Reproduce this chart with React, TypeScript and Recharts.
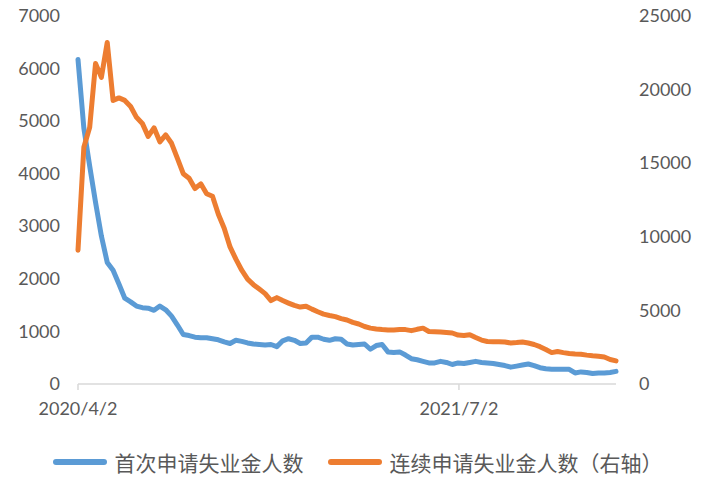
import React from 'react';
import { LineChart, Line, XAxis, YAxis, Legend } from 'recharts';

// Weekly observations starting 2020/4/2
const startLabel = '2020/4/2';
const xTickLabels = ['2020/4/2', '2021/7/2'];
const xTickDays = [0, 456];
const lastDay = 644;

const initialClaims = [
  6165, 4860, 4140, 3450, 2810, 2310, 2160, 1900, 1630, 1560,
  1480, 1450, 1440, 1400, 1480, 1410, 1290, 1120, 940, 920,
  890, 880, 880, 860, 840, 800, 770, 830, 810, 780,
  760, 750, 740, 750, 710, 820, 860, 830, 770, 780,
  890, 890, 850, 830, 860, 850, 760, 740, 750, 760,
  660, 730, 750, 610, 600, 610, 550, 480, 460, 430,
  400, 400, 430, 410, 370, 400, 390, 410, 430, 410,
  400, 390, 370, 350, 320, 340, 360, 380, 350, 310,
  290, 280, 280, 280, 280, 210, 230, 220, 200, 210,
  210, 220, 240,
];

const continuingClaims = [
  9080, 16060, 17410, 21750, 20800, 23170, 19240, 19410, 19240, 18830,
  18090, 17680, 16800, 17380, 16430, 16900, 16330, 15310, 14270, 13960,
  13260, 13580, 12910, 12740, 11520, 10570, 9300, 8470, 7720, 7110,
  6740, 6440, 6130, 5660, 5860, 5660, 5490, 5330, 5220, 5280,
  5080, 4900, 4740, 4650, 4570, 4440, 4340, 4180, 4070, 3900,
  3790, 3730, 3690, 3660, 3660, 3690, 3690, 3620, 3710, 3790,
  3560, 3540, 3520, 3490, 3460, 3320, 3290, 3340, 3150, 2980,
  2880, 2870, 2870, 2850, 2780, 2810, 2850, 2780, 2680, 2530,
  2340, 2130, 2200, 2130, 2070, 2030, 2020, 1960, 1910, 1880,
  1830, 1660, 1570,
];

const seriesNames = ['首次申请失业金人数', '连续申请失业金人数（右轴）'];
const leftTicks = [0, 1000, 2000, 3000, 4000, 5000, 6000, 7000];
const rightTicks = [0, 5000, 10000, 15000, 20000, 25000];

const data = initialClaims.map((v, i) => ({
  day: i * 7,
  initial: v,
  continuing: continuingClaims[i],
}));

const BLUE = '#5B9BD5';
const ORANGE = '#ED7D31';
const TEXT = '#595959';
const AXIS = '#D9D9D9';
const tickFont = { fontFamily: 'Lato, "Open Sans", sans-serif', fontSize: 18, fill: TEXT };

const LegendContent = () => (
  <div
    style={{
      display: 'flex',
      justifyContent: 'center',
      alignItems: 'center',
      fontFamily: '"Noto Sans CJK SC", sans-serif',
      fontSize: 21,
      color: TEXT,
      lineHeight: '28px',
      paddingLeft: 6,
    }}
  >
    {[BLUE, ORANGE].map((c, k) => (
      <div key={k} style={{ display: 'flex', alignItems: 'center', marginLeft: k ? 24 : 0 }}>
        <div style={{ width: 54, height: 6, borderRadius: 3, background: c, marginRight: 8 }} />
        <span>{seriesNames[k]}</span>
      </div>
    ))}
  </div>
);

export default function App() {
  return (
    <div style={{ position: 'absolute', left: 0, top: 0, width: 709, height: 477, background: '#fff' }}>
      <LineChart width={709} height={477} data={data} margin={{ top: 15.5, right: 0, bottom: 0, left: 0 }}>
        <XAxis
          dataKey="day"
          type="number"
          domain={[0, lastDay]}
          ticks={xTickDays}
          tickFormatter={(d: number) => xTickLabels[xTickDays.indexOf(d)] ?? startLabel}
          stroke={AXIS}
          strokeWidth={1.5}
          tickSize={6}
          tickMargin={12}
          height={93}
          tick={tickFont}
          interval={0}
        />
        <YAxis
          yAxisId="left"
          orientation="left"
          domain={[0, 7000]}
          ticks={leftTicks}
          axisLine={false}
          tickLine={false}
          width={78}
          tickSize={6}
          tickMargin={12}
          tick={tickFont}
          interval={0}
        />
        <YAxis
          yAxisId="right"
          orientation="right"
          domain={[0, 25000]}
          ticks={rightTicks}
          axisLine={false}
          tickLine={false}
          width={93}
          tickSize={6}
          tickMargin={17}
          tick={{ ...tickFont, textAnchor: 'start' }}
          interval={0}
        />
        <Legend
          layout="horizontal"
          verticalAlign="middle"
          align="center"
          wrapperStyle={{ top: 448, left: 0, width: 709 }}
          content={() => <LegendContent />}
        />
        <Line
          yAxisId="left"
          dataKey="initial"
          name={seriesNames[0]}
          stroke={BLUE}
          strokeWidth={5}
          strokeLinecap="round"
          strokeLinejoin="round"
          dot={false}
          activeDot={false}
          isAnimationActive={false}
        />
        <Line
          yAxisId="right"
          dataKey="continuing"
          name={seriesNames[1]}
          stroke={ORANGE}
          strokeWidth={5}
          strokeLinecap="round"
          strokeLinejoin="round"
          dot={false}
          activeDot={false}
          isAnimationActive={false}
        />
      </LineChart>
    </div>
  );
}
